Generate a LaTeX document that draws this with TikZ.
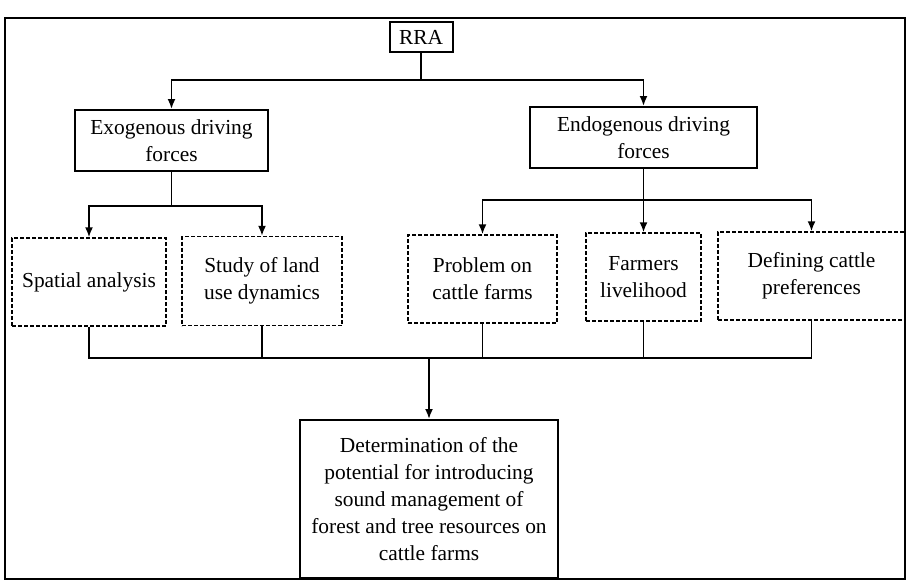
\documentclass[tikz,border=0pt]{standalone}
\usepackage{fontspec}
\setmainfont{Liberation Serif}
\usetikzlibrary{arrows.meta}

\begin{document}
\begin{tikzpicture}[x=0.5pt, y=-0.5pt,
    every node/.style={font=\fontsize{10.7}{13.5}\selectfont, align=center, inner sep=0pt},
    solidbox/.style={draw, line width=1pt},
    dashbox/.style={draw, line width=0.7pt, dash pattern=on 2pt off 1pt},
    link/.style={line width=0.9pt},
    >={Latex[length=5pt, width=4pt]}]
            \useasboundingbox (0, 0) rectangle (908, 584);

            % the frame round everything
            \draw[line width=0.8pt] (5, 18) rectangle (905, 579);

            % top and the two kinds of driving forces
            \node[solidbox, minimum width=31.5pt, minimum height=15pt] (rra) at (421, 37) {RRA};
            \node[solidbox, minimum width=96.5pt, minimum height=30.5pt] (exo) at (171.5, 140.5)
                {Exogenous driving\\forces};
            \node[solidbox, minimum width=113.5pt, minimum height=30.5pt] (endo) at (643.5, 137.5)
                {Endogenous driving\\forces};

            % the studies (dashed)
            \node[dashbox, minimum width=77pt, minimum height=44pt] (spatial) at (89, 282) {Spatial analysis};
            \node[dashbox, minimum width=80pt, minimum height=44.5pt] (landuse) at (262, 281) {Study of land\\use dynamics};
            \node[dashbox, minimum width=74.5pt, minimum height=44pt] (problem) at (482.5, 279) {Problem on\\cattle farms};
            \node[dashbox, minimum width=57.5pt, minimum height=44pt] (farmers) at (643.5, 277) {Farmers\\livelihood};
            \node[dashbox, minimum width=93.5pt, minimum height=44pt] (defining) at (811.5, 276) {Defining cattle\\preferences};

            % the outcome
            \node[solidbox, minimum width=129pt, minimum height=79pt] (determ) at (429, 499)
                {Determination of the\\potential for introducing\\sound management of\\forest and tree resources on\\cattle farms};

            % splitting lines
            \coordinate (splitrra) at (421, 80);
            \coordinate (splitexo) at (171.5, 206);
            \coordinate (splitendo) at (643.5, 200);
            \coordinate (merge) at (429, 358);

            \draw[link] (rra) -- (splitrra);
            \draw[link, ->] (splitrra) -| (exo);
            \draw[link, ->] (splitrra) -| (endo);

            \draw[link] (exo) -- (splitexo);
            \foreach \n in {spatial, landuse}{
                \draw[link, ->] (splitexo) -| (\n);
            }

            \draw[link, ->] (endo) -- (farmers);
            \foreach \n in {problem, defining}{
                \draw[link, ->] (splitendo) -| (\n);
            }

            % joining lines
            \foreach \n in {spatial, landuse, problem, farmers, defining}{
                \draw[link] (\n.south) |- (merge);
            }
            \draw[link, ->] (merge) -- (determ);
\end{tikzpicture}
\end{document}
